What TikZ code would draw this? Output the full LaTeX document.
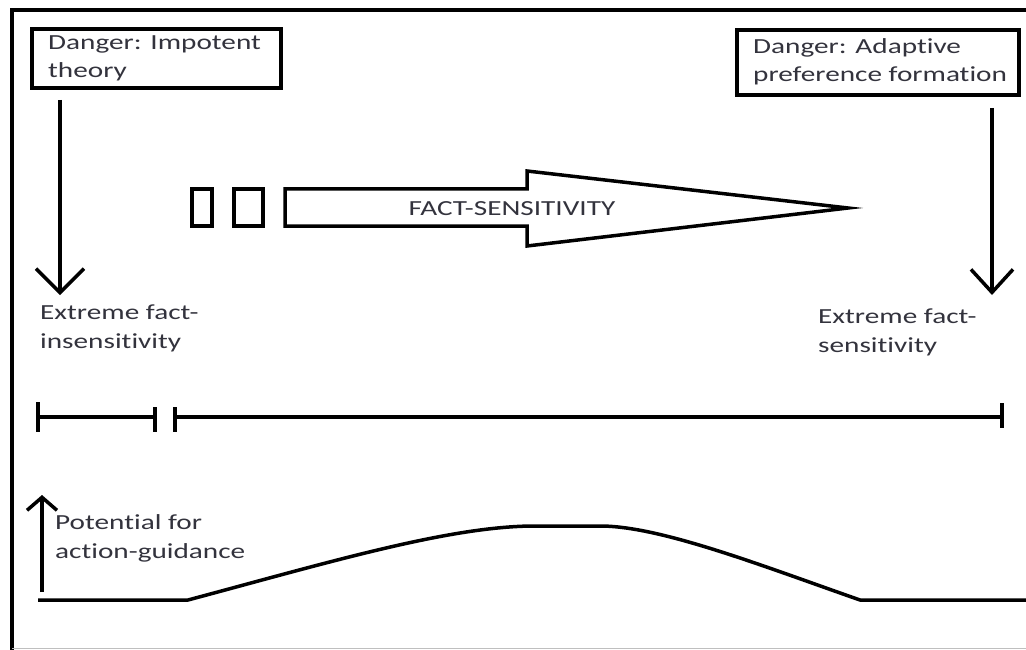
\documentclass[tikz,border=0pt]{standalone}
\usepackage{fontspec}
\usepackage{graphicx}
\usetikzlibrary{arrows.meta}
\newfontfamily\calfont[Ligatures=NoCommon]{Carlito}
\newcommand\sx[1]{\scalebox{1.36}[1]{#1}}
\definecolor{txt}{HTML}{33333D}
\tikzset{
  lbl/.style={font=\calfont\fontsize{21.5}{28.5}\selectfont, text=txt, inner sep=0pt, align=left, anchor=base west},
  boxframe/.style={draw=black, line width=4.5pt},
  thick line/.style={line width=3.5pt},
  bigdown/.style={line width=3.5pt, -{Straight Barb[length=24pt,width=48pt]}},
  smallup/.style={line width=3.5pt, -{Straight Barb[length=13pt,width=30pt]}},
}
\begin{document}
\begin{tikzpicture}[x=1pt,y=-1pt]
\useasboundingbox (0,0) rectangle (1026,650);
\fill[white] (0,0) rectangle (1026,650);
% outer frame
\draw[line width=4pt] (12,650) -- (12,10) -- (1026,10);
\draw[gray!50, line width=1.5pt] (12,648.5) -- (1026,648.5);
% danger boxes
\draw[boxframe] (32,29) rectangle (281,88);
\node[lbl] (limp) at (48,78) {\sx{Danger: Impotent}\\\sx{theory}};
\draw[boxframe] (737,30) rectangle (1019,95);
\node[lbl] (ladap) at (753,82) {\sx{Danger: Adaptive}\\\sx{preference formation}};
% down arrows
\coordinate (la0) at (60,100);
\coordinate (la1) at (60,295);
\draw[bigdown] (la0) -- (la1);
\coordinate (ra0) at (992,108);
\coordinate (ra1) at (992,295);
\draw[line width=3.5pt, -{Straight Barb[length=23pt,width=42pt]}] (ra0) -- (ra1);
% extreme labels
\node[lbl] (lext) at (40,348) {\sx{Extreme fact-}\\\sx{insensitivity}};
\node[lbl] (rext) at (818,352) {\sx{Extreme fact-}\\\sx{sensitivity}};
% fact-sensitivity arrow
\draw[line width=3.5pt] (192,189) rectangle (212,226);
\draw[line width=3.5pt] (234,189) rectangle (263,226);
\draw[line width=3.5pt, line join=miter, miter limit=12]
  (285,189) -- (527,189) -- (527,171) -- (848,208) -- (527,246) -- (527,226) -- (285,226) -- cycle;
\node[lbl, anchor=base] (fs) at (512,215) {\sx{FACT-SENSITIVITY}};
% scale bar
\draw[thick line] (38,417) -- (155,417);
\draw[thick line] (38,402) -- (38,432);
\draw[thick line] (155,407) -- (155,432);
\draw[thick line] (175,417) -- (1002,417);
\draw[thick line] (175,407) -- (175,432);
\draw[thick line] (1002,403) -- (1002,428);
% potential graph
\coordinate (ua0) at (42,592);
\coordinate (ua1) at (42,495);
\draw[smallup] (ua0) -- (ua1);
\node[lbl] (pot) at (55,558) {\sx{Potential for}\\\sx{action-guidance}};
\draw[thick line, line join=round]
  (38,600) -- (188,600) .. controls (330,562) and (450,526) .. (535,526)
  -- (600,526) .. controls (660,526) and (760,565) .. (860,600) -- (1026,600);
\end{tikzpicture}
\end{document}
